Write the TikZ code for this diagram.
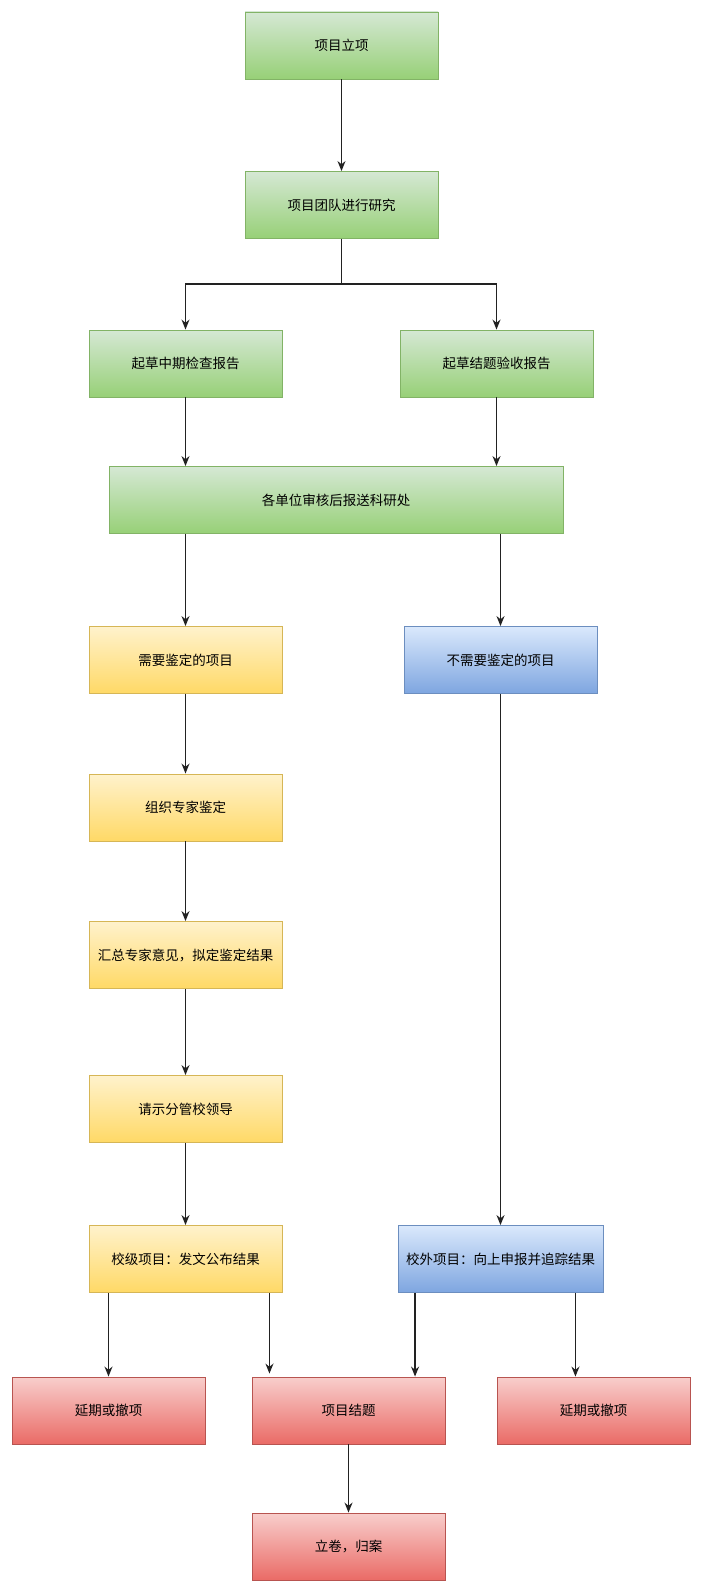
\documentclass[tikz,border=0pt]{standalone}
\usepackage{fontspec}
\setmainfont{Noto Sans CJK SC}
\usepackage{xcolor}
\usetikzlibrary{positioning, arrows.meta}

\definecolor{greentop}{HTML}{D5E8D4}
\definecolor{greenbot}{HTML}{97D077}
\definecolor{greenline}{HTML}{82B366}
\definecolor{yellowtop}{HTML}{FFF2CC}
\definecolor{yellowbot}{HTML}{FFD966}
\definecolor{yellowline}{HTML}{D6B656}
\definecolor{bluetop}{HTML}{DAE8FC}
\definecolor{bluebot}{HTML}{7EA6E0}
\definecolor{blueline}{HTML}{6C8EBF}
\definecolor{redtop}{HTML}{F8CECC}
\definecolor{redbot}{HTML}{EA6B66}
\definecolor{redline}{HTML}{B85450}
\definecolor{linkgray}{HTML}{222222}

\begin{document}
\begin{tikzpicture}[
    x=1pt, y=-1pt,
    box/.style={rectangle, draw, line width=0.9pt, minimum width=193pt, minimum height=67pt, inner sep=0pt, align=center, font=\fontsize{13.5}{16}\selectfont},
    greenbox/.style={box, draw=greenline, top color=greentop, bottom color=greenbot},
    yellowbox/.style={box, draw=yellowline, top color=yellowtop, bottom color=yellowbot},
    bluebox/.style={box, draw=blueline, top color=bluetop, bottom color=bluebot},
    redbox/.style={box, draw=redline, top color=redtop, bottom color=redbot},
    arrow/.style={-{Stealth[length=10pt,width=8pt]}, line width=1.2pt, linkgray}
]
    \useasboundingbox (0,0) rectangle (703,1594);

    % Approval and drafting
    \node[greenbox] (setup) at (341.5,45.5) {项目立项};
    \node[greenbox] (research) at (341.5,205) {项目团队进行研究};
    \node[greenbox] (midreport) at (185.5,363.5) {起草中期检查报告};
    \node[greenbox] (finalreport) at (496.5,363.5) {起草结题验收报告};
    \node[greenbox, minimum width=454pt] (review) at (336,500) {各单位审核后报送科研处};

    % Evaluation branch
    \node[yellowbox] (needeval) at (185.5,660) {需要鉴定的项目};
    \node[bluebox] (noeval) at (500.5,660) {不需要鉴定的项目};
    \node[yellowbox] (experts) at (185.5,807.5) {组织专家鉴定};
    \node[yellowbox] (summary) at (185.5,955) {汇总专家意见，拟定鉴定结果};
    \node[yellowbox] (leaders) at (185.5,1109) {请示分管校领导};
    \node[yellowbox] (schoolres) at (185.5,1259) {校级项目：发文公布结果};
    \node[bluebox, minimum width=205pt] (outres) at (500.5,1259) {校外项目：向上申报并追踪结果};

    % Outcomes
    \node[redbox] (delayL) at (108.5,1410.5) {延期或撤项};
    \node[redbox] (conclude) at (348.5,1410.5) {项目结题};
    \node[redbox] (delayR) at (593.5,1410.5) {延期或撤项};
    \node[redbox] (archive) at (348.5,1546.5) {立卷，归案};

    % Connections
    \draw[arrow] (setup) -- (research);
    \draw[arrow] (research.south) -- ++(0,45) -| (midreport.north);
    \draw[arrow] (research.south) -- ++(0,45) -| (finalreport.north);
    \draw[arrow] (midreport) -- (midreport |- review.north);
    \draw[arrow] (finalreport) -- (finalreport |- review.north);
    \draw[arrow] (review.south -| needeval) -- (needeval.north);
    \draw[arrow] (review.south -| noeval) -- (noeval.north);
    \draw[arrow] (needeval) -- (experts);
    \draw[arrow] (experts) -- (summary);
    \draw[arrow] (summary) -- (leaders);
    \draw[arrow] (leaders) -- (schoolres);
    \draw[arrow] (noeval) -- (outres);
    \draw[arrow] (schoolres.south -| delayL) -- (delayL.north);
    \draw[arrow, shorten >=3pt] ([xshift=-13pt]schoolres.south east) -- ([xshift=-13pt]schoolres.south east |- conclude.north);
    \draw[arrow] ([xshift=17.5pt]outres.south west) -- ([xshift=17.5pt]outres.south west |- conclude.north);
    \draw[arrow] ([xshift=-28pt]outres.south east) -- ([xshift=-28pt]outres.south east |- delayR.north);
    \draw[arrow] (conclude) -- (archive);

\end{tikzpicture}
\end{document}
